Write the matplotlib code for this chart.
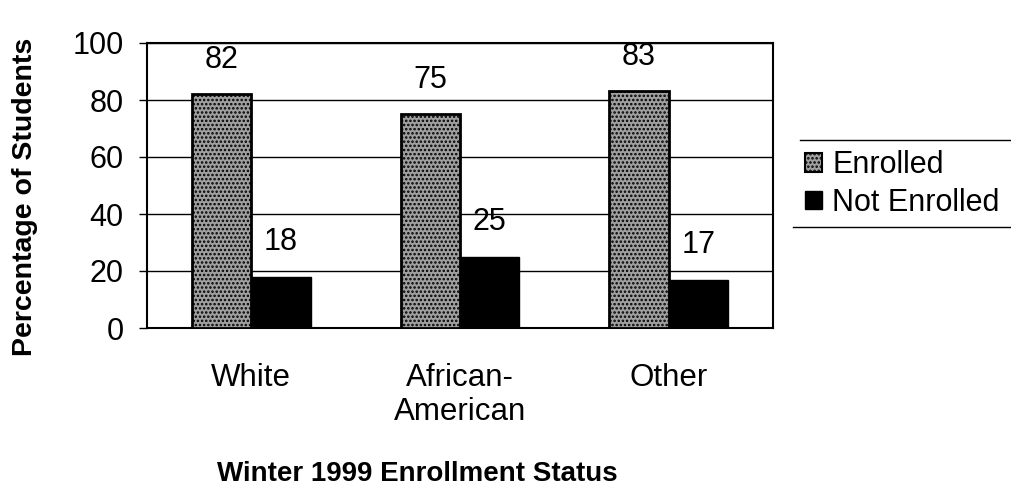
import matplotlib
matplotlib.use('Agg')
import matplotlib.pyplot as plt
from matplotlib.patches import Patch
from matplotlib.lines import Line2D
import numpy as np

# data
groups = ['White', 'African-\nAmerican', 'Other']
series = ['Enrolled', 'Not Enrolled']
enrolled = [82, 75, 83]
not_enrolled = [18, 25, 17]

plt.rcParams['font.family'] = ['Liberation Sans', 'DejaVu Sans']
plt.rcParams['hatch.linewidth'] = 1.2

fig = plt.figure(figsize=(10.11, 4.95), dpi=100)
ax = fig.add_axes([147 / 1011, 1 - 328 / 495, 626 / 1011, 285 / 495])

x = np.arange(len(groups))
w = 0.285

b1 = ax.bar(x - w / 2, enrolled, w, facecolor='#a0a0a0', edgecolor='black',
            hatch='....', linewidth=2, zorder=3, label=series[0])
b2 = ax.bar(x + w / 2, not_enrolled, w, facecolor='black', edgecolor='black',
            linewidth=1, zorder=3, label=series[1])

for bars, vals in ((b1, enrolled), (b2, not_enrolled)):
    for r, v in zip(bars, vals):
        ax.annotate(str(v), (r.get_x() + r.get_width() / 2, v),
                    xytext=(0, 14), textcoords='offset points',
                    ha='center', va='bottom', fontsize=22, zorder=4,
                    annotation_clip=False)

ax.set_xlim(-0.5, 2.5)
ax.set_ylim(0, 100)
ax.set_yticks(np.arange(0, 101, 20))
ax.set_xticks(x)
ax.set_xticklabels(groups, fontsize=22.5)
ax.tick_params(axis='x', length=0, pad=25)
ax.tick_params(axis='y', length=6, width=1, pad=11, labelsize=22)
ax.yaxis.grid(True, color='black', linewidth=1, zorder=0)
for s in ax.spines.values():
    s.set_linewidth(1.5)

fig.text(25 / 1011, 1 - 197 / 495, 'Percentage of Students', rotation=90,
         ha='center', va='center', fontsize=20.5, fontweight='bold')
fig.text(417 / 1011, 1 - 474 / 495, 'Winter 1999 Enrollment Status',
         ha='center', va='center', fontsize=20, fontweight='bold')

handles = [Patch(facecolor='#a0a0a0', edgecolor='black', hatch='....', linewidth=1.5),
           Patch(facecolor='black', edgecolor='black')]
fig.legend(handles, series, loc='center left', bbox_to_anchor=(805 / 1011, 1 - 184 / 495),
           frameon=False, fontsize=22, handlelength=0.55, handleheight=0.55,
           handletextpad=0.35, labelspacing=0.25, borderaxespad=0, borderpad=0)
for x0, yy in ((800, 140), (793, 227)):
    fig.add_artist(Line2D([x0 / 1011, 1.0], [1 - yy / 495] * 2,
                          transform=fig.transFigure, color='black', linewidth=1))

fig.savefig('out.png', dpi=100)
